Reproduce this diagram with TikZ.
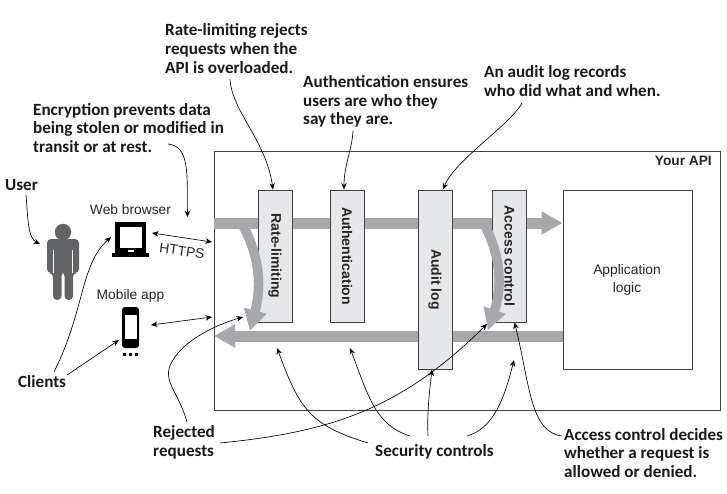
\documentclass[tikz,border=0pt]{standalone}
\usepackage{xcolor}
\usepackage{graphicx}
\usepackage{fontspec}
\setmainfont{Liberation Sans}
\newfontfamily\callfont{Carlito}
\usepackage{tikz}
\usetikzlibrary{positioning,arrows.meta}
\definecolor{apigray}{RGB}{166,168,171}
\definecolor{boxgray}{RGB}{230,231,232}
\definecolor{edgegray}{RGB}{65,65,67}
\definecolor{mangray}{RGB}{99,100,102}

\begin{document}
\begin{tikzpicture}[
    x=1pt, y=-1pt,
    every node/.style={inner sep=0pt},
    call/.style={font=\callfont\fontsize{17.1}{18.6}\selectfont\bfseries, align=left, anchor=west, text=black!90},
    plain/.style={font=\fontsize{13.8}{18}\selectfont, align=center, text=black!85},
    ctrl/.style={draw=edgegray, fill=boxgray, line width=0.9pt, minimum width=34pt, font=\fontsize{14}{14}\selectfont\bfseries, text=black!85},
    band/.style={draw=apigray, line width=11pt},
    bandtip/.style={band, -{Triangle[length=21pt,width=22pt]}},
    note/.style={black, line width=0.65pt, -{Stealth[length=6.5pt,width=5.5pt]}},
    both/.style={black, line width=0.65pt, {Stealth[length=6.5pt,width=5.5pt]}-{Stealth[length=6.5pt,width=5.5pt]}}
  ]
  \useasboundingbox (0,0) rectangle (727,493);

  % API frame and the application
  \node[draw=edgegray, line width=0.9pt, minimum width=506pt, minimum height=259pt] (api) at (467,280.5) {};
  \node[plain, font=\fontsize{13.7}{14}\selectfont\bfseries, anchor=east] (yourapi) at (712,161) {Your API};
  \node[draw=edgegray, fill=white, line width=0.9pt, minimum width=129pt, minimum height=179pt] (logic) at (627.5,279.5) {};
  \node[plain] (logictext) at (627,279.5) {Application\\logic};

  % request and response bands
  \coordinate (bandin) at (214,223);
  \coordinate (bandout) at (214,336);
  \draw[bandtip] (bandin) -- (logic.west |- bandin);
  \draw[bandtip] (logic.west |- bandout) -- (bandout);

  % security controls
  \node[ctrl, minimum height=132pt] (rate) at (275,256) {\rotatebox{-90}{Rate-limiting}};
  \node[ctrl, minimum height=132pt] (auth) at (347,256) {\rotatebox{-90}{Authentication}};
  \node[ctrl, minimum height=179pt] (audit) at (435,279.5) {\rotatebox{-90}{Audit log}};
  \node[ctrl, minimum height=132pt] (access) at (509.5,256) {\rotatebox{-90}{Access control}};

  % rejected requests leave the request band
  \coordinate (rejA) at (243,226);
  \coordinate (rejAtip) at (250,331);
  \coordinate (rejB) at (485,226);
  \coordinate (rejBtip) at (488,330);
  \draw[bandtip, line width=9.5pt] (rejA) .. controls (259,255) and (262,285) .. (rejAtip);
  \draw[bandtip, line width=9.5pt] (rejB) .. controls (500,255) and (503,285) .. (rejBtip);

  % user and clients
  \fill[mangray] (63,232) circle (8.2);
  \fill[mangray, rounded corners=4pt] (47,273) -- (47,239) -- (79,239) -- (79,273) -- (73,273) -- (73,300) -- (64.5,300) -- (64.5,272) -- (61.5,272) -- (61.5,300) -- (53,300) -- (53,273) -- cycle;
  \draw[white, line width=1pt] (53.5,250) -- (53.5,273) (72.5,250) -- (72.5,273);

  \node[fill=black, minimum width=31pt, minimum height=31pt] (laptop) at (130.5,237) {};
  \node[fill=white, minimum width=22pt, minimum height=21pt] (screen) at (131,237.5) {};
  \node[fill=black, minimum width=37pt, minimum height=4pt] (base) at (130.5,254.5) {};
  \node[fill=white, minimum width=6pt, minimum height=1.5pt] (slot) at (130.5,250.8) {};

  \node[fill=black, rounded corners=3pt, minimum width=17pt, minimum height=41pt] (phone) at (130.5,327.5) {};
  \node[fill=white, minimum width=12pt, minimum height=24pt] (phonescreen) at (130.5,327) {};
  \foreach \i in {0,1,2} {
    \node[fill=black, minimum width=3.5pt, minimum height=3.5pt] (dot\i) at (124.5+\i*6,354.5) {};
  }

  \node[plain, font=\fontsize{13.8}{14}\selectfont] (web) at (130.5,210) {Web browser};
  \node[plain, font=\fontsize{13.8}{14}\selectfont] (mobile) at (130.5,296) {Mobile app};
  \node[plain, rotate=-8] (https) at (182,251) {HTTPS};

  % client traffic
  \coordinate (webtip) at (152,233);
  \coordinate (webend) at (212,242);
  \coordinate (mobtip) at (151,325);
  \coordinate (mobend) at (212,317);
  \draw[both] (webtip) -- (webend);
  \draw[both] (mobtip) -- (mobend);

  % callouts
  \node[call] (lrate) at (165,48.5) {Rate-limiting rejects\\requests when the\\API is overloaded.};
  \node[call] (lauth) at (303,101.5) {Authentication ensures\\users are who they\\say they are.};
  \node[call] (laudit) at (484,81) {An audit log records\\who did what and when.};
  \node[call] (lenc) at (33,128) {Encryption prevents data\\being stolen or modified in\\transit or at rest.};
  \node[call] (luser) at (5,185) {User};
  \node[call] (lclients) at (18,382) {Clients};
  \node[call] (lrej) at (153,442.5) {Rejected\\requests};
  \node[call] (lsec) at (375,451.5) {Security controls};
  \node[call] (ldec) at (564,453) {Access control decides\\whether a request is\\allowed or denied.};

  \coordinate (encgap) at (187.5,217);
  \coordinate (usertip) at (40,244);
  \coordinate (clienttipA) at (111,237);
  \coordinate (clienttipB) at (119,340);
  \coordinate (rejtipA) at (243,317);
  \coordinate (rejtipB) at (487,324);
  \coordinate (sectipA) at (277,348);
  \coordinate (sectipB) at (350,348);
  \coordinate (sectipD) at (514,360);

  \draw[note] (230,79) .. controls (232,112) and (266,140) .. ([xshift=-2pt]rate.north);
  \draw[note] (353,131) .. controls (352,150) and (344,165) .. ([xshift=-3pt]auth.north);
  \draw[note] (522,103) .. controls (510,125) and (455,160) .. ([xshift=8pt]audit.north);
  \draw[note] (168,144) .. controls (190,146) and (187,175) .. (encgap);
  \draw[note] (26,195) .. controls (28,220) and (28,238) .. (usertip);
  \draw[note] (54,372) .. controls (85,310) and (80,265) .. (clienttipA);
  \draw[note] (67,375) -- (clienttipB);
  \draw[note] (187,422) .. controls (178,390) and (160,380) .. (173,360) .. controls (185,340) and (215,325) .. (rejtipA);
  \draw[note] (220,443) .. controls (330,432) and (400,410) .. (rejtipB);
  \draw[note] (368,443) .. controls (310,425) and (300,410) .. (sectipA);
  \draw[note] (410,436) .. controls (375,425) and (368,395) .. (sectipB);
  \draw[note] (428,436) .. controls (427,415) and (429,395) .. ([xshift=-3pt]audit.south);
  \draw[note] (467,436) .. controls (495,428) and (505,395) .. (sectipD);
  \draw[note] (562,436) .. controls (530,432) and (530,385) .. ([xshift=5pt]access.south);
\end{tikzpicture}
\end{document}
